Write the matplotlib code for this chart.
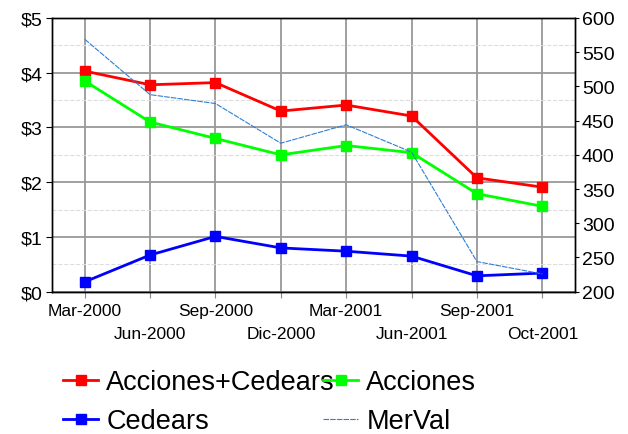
import matplotlib
matplotlib.use('Agg')
import matplotlib.pyplot as plt
import numpy as np
from matplotlib.ticker import MultipleLocator

plt.rcParams['font.family'] = ['Liberation Sans', 'DejaVu Sans']

categories = ['Mar-2000', 'Jun-2000', 'Sep-2000', 'Dic-2000',
              'Mar-2001', 'Jun-2001', 'Sep-2001', 'Oct-2001']
acciones_cedears = [4.03, 3.78, 3.82, 3.30, 3.41, 3.21, 2.08, 1.91]
acciones = [3.85, 3.10, 2.80, 2.50, 2.67, 2.54, 1.79, 1.56]
cedears = [0.18, 0.67, 1.01, 0.80, 0.74, 0.65, 0.29, 0.34]
merval = [569, 488, 475, 417, 444, 404, 244, 226]

left_ticks = [0, 1, 2, 3, 4, 5]
left_tick_labels = ['$0', '$1', '$2', '$3', '$4', '$5']
right_ticks = [200, 250, 300, 350, 400, 450, 500, 550, 600]

W, H = 628, 435
fig = plt.figure(figsize=(W / 100, H / 100), dpi=100)
L, R, T, B = 52, 575, 19, 292.7
ax = fig.add_axes([L / W, 1 - B / H, (R - L) / W, (B - T) / H])

x = np.arange(len(categories))
ax.set_xlim(-0.5, len(categories) - 0.5)
ax.set_ylim(0, 5)
ax.set_axisbelow(True)

ax.set_xticks(x)
ax.set_xticklabels(categories, fontsize=12.5)
ax.set_yticks(left_ticks)
ax.set_yticklabels(left_tick_labels, fontsize=14)
ax.yaxis.set_minor_locator(MultipleLocator(0.5))
ax.tick_params(axis='y', which='minor', length=0)
ax.tick_params(axis='y', which='major', length=4, pad=3, color='black')
ax.tick_params(axis='x', which='major', length=4, pad=4, color='#888888')
for i, tk in enumerate(ax.xaxis.get_major_ticks()):
    if i % 2 == 1:
        tk.set_pad(4 + 17)

ax.grid(axis='x', which='major', color='#999999', lw=1.3)
ax.grid(axis='y', which='major', color='#999999', lw=1.3)
ax.grid(axis='y', which='minor', color='#dddddd', ls='--', lw=0.8)

for s in ax.spines.values():
    s.set_color('black')
    s.set_linewidth(1.0)

kw = dict(lw=2.0, marker='s', markersize=7.5)
l1, = ax.plot(x, acciones_cedears, color='#ff0000', label='Acciones+Cedears', **kw)
l2, = ax.plot(x, acciones, color='#00ff00', label='Acciones', **kw)
l3, = ax.plot(x, cedears, color='#0000ff', label='Cedears', **kw)

ax2 = ax.twinx()
ax2.set_ylim(200, 600)
ax2.set_yticks(right_ticks)
ax2.set_yticklabels([str(t) for t in right_ticks], fontsize=14)
ax2.tick_params(axis='y', length=3, pad=2)
l4, = ax2.plot(x, merval, color='#2f7fd6', lw=0.8, ls=(0, (5, 1)), label='MerVal')
for s in ax2.spines.values():
    s.set_color('black')
    s.set_linewidth(1.0)

lkw = dict(loc='upper left', frameon=False, fontsize=19.5, handlelength=1.3,
           handletextpad=0.3, labelspacing=0.48, borderpad=0, borderaxespad=0)
fig.legend(handles=[l1, l3], bbox_to_anchor=(63 / W, 1 - 370 / H), **lkw)
fig.legend(handles=[l2, l4], bbox_to_anchor=(323 / W, 1 - 370 / H), **lkw)

fig.savefig('out.png', dpi=100)
